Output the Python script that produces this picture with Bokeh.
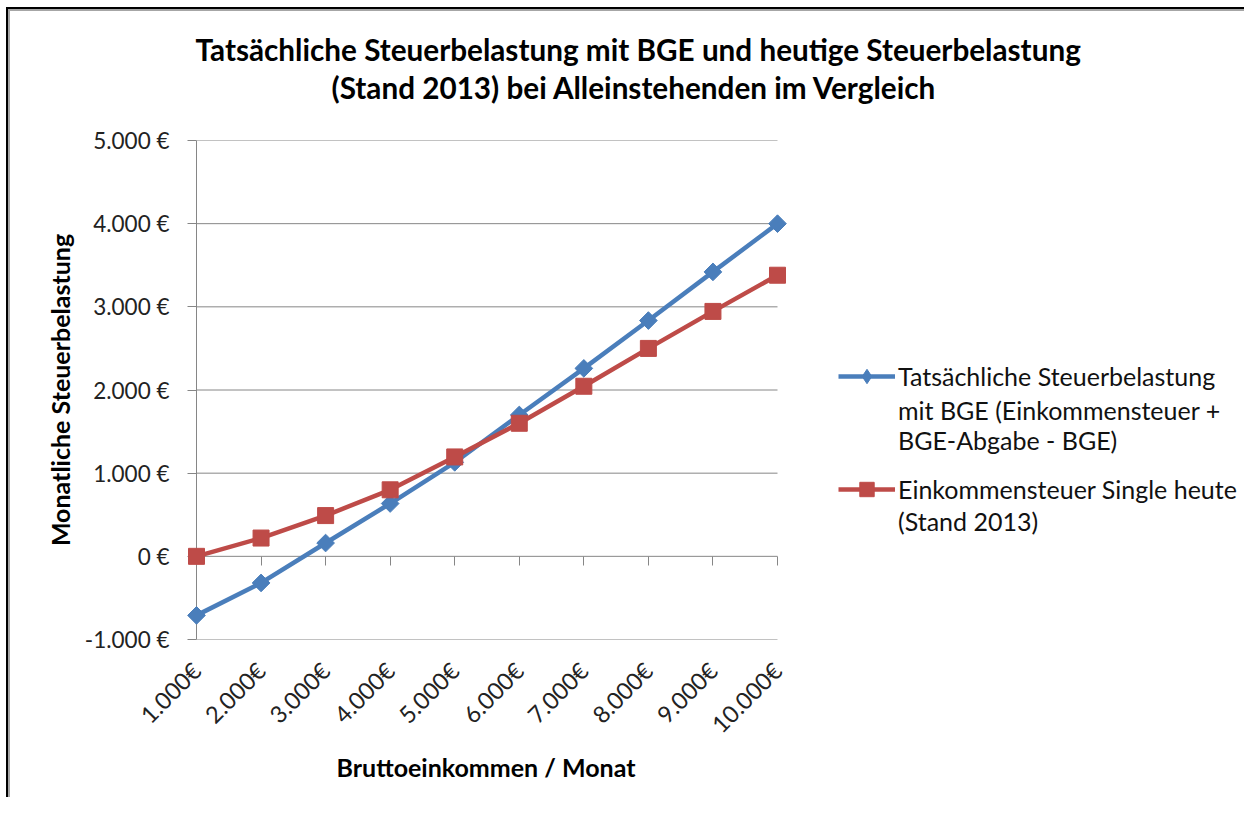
import math
from bokeh.plotting import figure
from bokeh.models import (FixedTicker, LinearAxis, Range1d, Legend, LegendItem, Title)
from bokeh.embed import file_html
from bokeh.resources import INLINE

# ---- data ----
categories = [1000, 2000, 3000, 4000, 5000, 6000, 7000, 8000, 9000, 10000]
x_tick_labels = ["1.000€", "2.000€", "3.000€", "4.000€", "5.000€",
                 "6.000€", "7.000€", "8.000€", "9.000€", "10.000€"]
bge_values = [-710, -320, 160, 635, 1130, 1700, 2260, 2835, 3420, 4000]
single_values = [0, 220, 490, 800, 1195, 1600, 2045, 2500, 2945, 3380]
y_ticks = [-1000, 0, 1000, 2000, 3000, 4000, 5000]
y_tick_labels = ["-1.000 €", "0 €", "1.000 €", "2.000 €", "3.000 €", "4.000 €", "5.000 €"]

title_lines = ["Tatsächliche Steuerbelastung mit BGE und heutige Steuerbelastung",
               "(Stand 2013) bei Alleinstehenden  im Vergleich"]
series_first_lines = ["Tatsächliche Steuerbelastung", "Einkommensteuer Single heute"]
series_more_lines = ["mit BGE (Einkommensteuer +\nBGE-Abgabe - BGE)", "(Stand 2013)"]
x_title = "Bruttoeinkommen / Monat"
y_title = "Monatliche Steuerbelastung"

BLUE = "#4A7EBB"
RED = "#BE4B48"
GRID = "#868686"
FONT = "Lato"

PW = 581            # width of the plotting area in which the data lie
W, H = 1244, 797
BL, BT, BR = 196, 140, 2
FW, FH = W - BL - BR, 499   # frame is widened so the legend sits inside it
x_end = categories[0] + (categories[-1] - categories[0]) * FW / PW

p = figure(frame_width=FW, frame_height=FH,
           min_border_left=BL, min_border_top=BT,
           min_border_right=BR, min_border_bottom=H - BT - FH,
           x_range=Range1d(categories[0], x_end),
           y_range=Range1d(y_ticks[0], y_ticks[-1]),
           x_axis_location=None,
           output_backend="svg", toolbar_location=None)
p.outline_line_color = None
p.border_fill_color = None
p.styles = {"box-shadow": "inset 6px 7px 0 #ffffff, inset 8px 9px 0 #000000, inset 10px 11px 0 #a6a6a6"}
p.xgrid.grid_line_color = None
p.ygrid.grid_line_color = None

# horizontal gridlines limited to the category span
n = len(y_ticks)
p.segment(x0=[categories[0]] * n, x1=[categories[-1]] * n, y0=y_ticks, y1=y_ticks,
          line_color=GRID, line_width=1, level="underlay")

# y axis
ya = p.yaxis[0]
ya.ticker = FixedTicker(ticks=y_ticks)
ya.major_label_overrides = {t: l for t, l in zip(y_ticks, y_tick_labels)}
ya.axis_line_color = GRID
ya.major_tick_line_color = GRID
ya.major_tick_in = 0
ya.major_tick_out = 9
ya.minor_tick_line_color = None
ya.major_label_standoff = 18
ya.major_label_text_font = FONT
ya.major_label_text_font_size = "22.5px"
ya.major_label_text_color = "#222222"
ya.axis_label = y_title
ya.axis_label_text_font = FONT
ya.axis_label_text_font_style = "bold"
ya.axis_label_text_font_size = "25px"
ya.axis_label_text_color = "#000000"
ya.axis_label_standoff = 7

# x axis with labels (bottom)
xa = LinearAxis(ticker=FixedTicker(ticks=categories),
                major_label_overrides={c: l for c, l in zip(categories, x_tick_labels)},
                major_label_orientation=math.pi / 4,
                axis_line_color=None, major_tick_line_color=None,
                major_tick_out=0, major_tick_in=0,
                minor_tick_line_color=None,
                major_label_standoff=27,
                major_label_text_font=FONT, major_label_text_font_size="23.5px",
                major_label_text_color="#222222")
p.add_layout(xa, "below")

# x tick marks at y=0
xa0 = LinearAxis(fixed_location=0, ticker=FixedTicker(ticks=categories),
                 axis_line_color=None, major_tick_line_color=GRID,
                 major_tick_in=0, major_tick_out=9, minor_tick_line_color=None,
                 major_label_text_color=None, major_label_text_font_size="1px")
p.add_layout(xa0, "below")

# x axis title, positioned under the category span
p.add_layout(Title(text=x_title, align="left", offset=140, standoff=0,
                   vertical_align="top",
                   text_font=FONT, text_font_style="bold", text_font_size="25px",
                   text_color="#000000"), "below")

# legend key for the blue series (a diamond hidden under the first blue marker)
s1_key = p.scatter(categories[:1], bge_values[:1], marker="diamond", size=11,
                   fill_color=BLUE, line_color=BLUE)

# series
l1 = p.line(categories, bge_values, line_color=BLUE, line_width=4.5, level="overlay")
s1 = p.scatter(categories, bge_values, marker="square", angle=math.pi / 4, size=12.5,
               fill_color=BLUE, line_color=BLUE, level="overlay")
l2 = p.line(categories, single_values, line_color=RED, line_width=4.5, level="overlay")
s2 = p.scatter(categories, single_values, marker="square", size=16,
               fill_color=RED, line_color=RED, level="overlay")
blank = p.scatter(x=[], y=[], alpha=0)

common = dict(padding=0, margin=0, glyph_width=57, label_standoff=3,
              label_text_font=FONT, label_text_font_size="25px",
              label_text_color="#111111", border_line_color=None,
              background_fill_color=None)
legend_main = Legend(items=[LegendItem(label=series_first_lines[0], renderers=[l1, s1_key]),
                            LegendItem(label=series_first_lines[1], renderers=[l2, s2])],
                     location=(642, 132), spacing=77, glyph_height=36, **common)
legend_more = Legend(items=[LegendItem(label=series_more_lines[0], renderers=[blank]),
                            LegendItem(label=series_more_lines[1], renderers=[blank])],
                     location=(642, 103), spacing=51, glyph_height=2, **common)
p.add_layout(legend_main, "center")
p.add_layout(legend_more, "center")

# title: spacer first (closest to the frame), then lower line, then upper line
p.add_layout(Title(text=" ", text_font_size="1px", standoff=33), "above")
for txt, off, so in [(title_lines[1], 135, 0), (title_lines[0], -1, 2)]:
    p.add_layout(Title(text=txt, align="left", offset=off, standoff=so,
                       text_font=FONT, text_font_style="bold", text_font_size="29.7px",
                       text_color="#000000"), "above")

open("out.html", "w").write(file_html(p, INLINE))
